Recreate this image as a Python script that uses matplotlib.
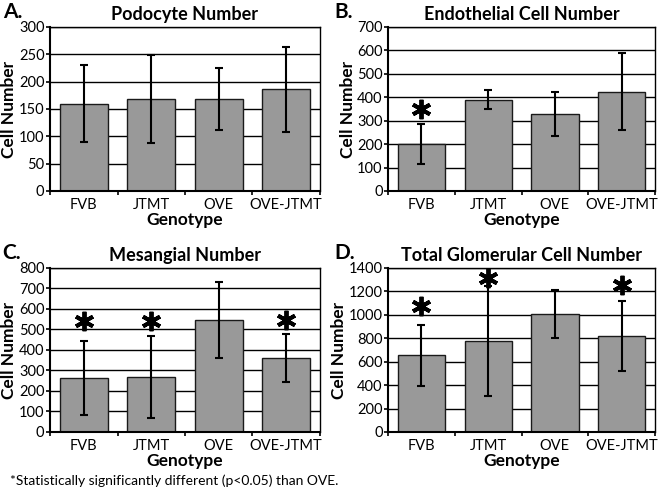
import matplotlib
matplotlib.use("Agg")
import matplotlib.pyplot as plt

plt.rcParams['font.family'] = ['Lato', 'DejaVu Sans']

genotypes = ["FVB", "JTMT", "OVE", "OVE-JTMT"]

# panel data: mean and standard deviation
podocyte_mean = [160, 168, 168, 186]
podocyte_sd = [71, 80, 57, 78]
endothelial_mean = [200, 390, 328, 424]
endothelial_sd = [85, 39, 94, 163]
mesangial_mean = [262, 268, 546, 360]
mesangial_sd = [181, 198, 186, 118]
total_mean = [655, 778, 1008, 822]
total_sd = [260, 470, 208, 298]

# significance stars: (bar index, y position)
endothelial_stars = [(0, 348)]
mesangial_stars = [(0, 540), (1, 540), (3, 545)]
total_stars = [(0, 1072), (1, 1314), (3, 1257)]

panels = [
    ("A.", "Podocyte Number", podocyte_mean, podocyte_sd, [], 300, 50,
     [0.0758, 0.6157, 0.409, 0.330], 0.004),
    ("B.", "Endothelial Cell Number", endothelial_mean, endothelial_sd, endothelial_stars, 700, 100,
     [0.588, 0.6157, 0.4045, 0.330], 0.506),
    ("C.", "Mesangial Number", mesangial_mean, mesangial_sd, mesangial_stars, 800, 100,
     [0.0758, 0.1308, 0.409, 0.330], 0.004),
    ("D.", "Total Glomerular Cell Number", total_mean, total_sd, total_stars, 1400, 200,
     [0.588, 0.1308, 0.4045, 0.330], 0.506),
]

fig = plt.figure(figsize=(6.6, 4.97), dpi=100, facecolor='white')

for letter, title, means, sds, stars, ymax, step, rect, letter_x in panels:
    ax = fig.add_axes(rect)
    x = list(range(len(genotypes)))
    ax.set_axisbelow(True)
    ax.yaxis.grid(True, color='black', linewidth=1.0)
    ax.bar(x, means, width=0.71, color='#999999', edgecolor='#1a1a1a', linewidth=1.0, zorder=2)
    ax.errorbar(x, means, yerr=sds, fmt='none', ecolor='black', elinewidth=1.5,
                capsize=3, capthick=1.5, zorder=3)
    for i, y in stars:
        ax.plot(i, y, marker=(6, 2, 0), markersize=14, markeredgewidth=2.8,
                color='black', zorder=4, clip_on=False)
    ax.set_xlim(-0.5, 3.5)
    ax.set_ylim(0, ymax)
    ax.set_yticks(range(0, ymax + 1, step))
    ax.set_xticks(x)
    ax.set_xticklabels(genotypes)
    ax.set_xticks([-0.5, 0.5, 1.5, 2.5, 3.5], minor=True)
    ax.tick_params(axis='x', which='major', length=0, labelsize=10.5, pad=5)
    ax.tick_params(axis='x', which='minor', length=3, width=1.2, direction='out')
    ax.tick_params(axis='y', length=3, width=1.2, direction='out', labelsize=10.5, pad=1)
    for s in ax.spines.values():
        s.set_color('black')
        s.set_linewidth(1.0)
    ax.spines['left'].set_linewidth(1.5)
    ax.spines['bottom'].set_linewidth(1.5)
    ax.set_xlabel("Genotype", fontsize=12.5, fontweight='bold', labelpad=0)
    ax.set_ylabel("Cell Number", fontsize=12.5, fontweight='bold', labelpad=1)
    ax.set_title(title, fontsize=13, fontweight='bold', pad=5)
    pos = ax.get_position()
    fig.text(letter_x, pos.y1 + 0.031, letter, fontsize=15, fontweight='bold',
             ha='left', va='center')

fig.text(0.015, 0.032, "*Statistically significantly different (p<0.05) than OVE.",
         fontsize=10, ha='left', va='center')

fig.savefig("out.png", dpi=100, facecolor='white')
